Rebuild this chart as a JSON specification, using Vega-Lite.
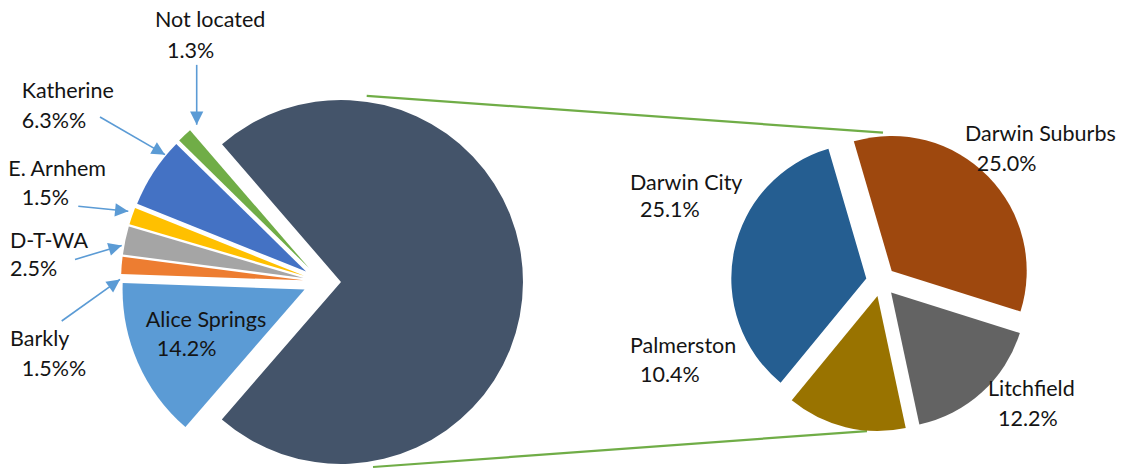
{
  "$schema": "https://vega.github.io/schema/vega-lite/v6.json",
  "width": 1146,
  "height": 469,
  "padding": 0,
  "autosize": {"type": "fit", "contains": "padding"},
  "background": "white",
  "config": {"view": {"stroke": null}},
  "datasets": {
    "slices": [
      {"pie": "left", "name": "Alice Springs", "pct": 14.2, "ord": 1},
      {"pie": "left", "name": "Barkly", "pct": 1.5, "ord": 2},
      {"pie": "left", "name": "D-T-WA", "pct": 2.5, "ord": 3},
      {"pie": "left", "name": "E. Arnhem", "pct": 1.5, "ord": 4},
      {"pie": "left", "name": "Katherine", "pct": 6.3, "ord": 5},
      {"pie": "left", "name": "Not located", "pct": 1.3, "ord": 6},
      {"pie": "left", "name": "Darwin region", "pct": 72.7, "ord": 7},
      {"pie": "right", "name": "Darwin Suburbs", "pct": 25.0, "ord": 1},
      {"pie": "right", "name": "Litchfield", "pct": 12.2, "ord": 2},
      {"pie": "right", "name": "Palmerston", "pct": 10.4, "ord": 3},
      {"pie": "right", "name": "Darwin City", "pct": 25.1, "ord": 4}
    ],
    "labels": [
      {"t": "Not located", "x": 155, "y": 27.5},
      {"t": "1.3%", "x": 167, "y": 58},
      {"t": "Katherine", "x": 21.7, "y": 98.3},
      {"t": "6.3%%", "x": 21.7, "y": 128.3},
      {"t": "E. Arnhem", "x": 8.3, "y": 176.7},
      {"t": "1.5%", "x": 21.7, "y": 205},
      {"t": "D-T-WA", "x": 10, "y": 248.3},
      {"t": "2.5%", "x": 10, "y": 276.7},
      {"t": "Barkly", "x": 10, "y": 346.7},
      {"t": "1.5%%", "x": 21.7, "y": 376.7},
      {"t": "Alice Springs", "x": 145.7, "y": 327.3},
      {"t": "14.2%", "x": 156.7, "y": 356.7},
      {"t": "Darwin City", "x": 630, "y": 190.7},
      {"t": "25.1%", "x": 640, "y": 217},
      {"t": "Darwin Suburbs", "x": 965, "y": 141.7},
      {"t": "25.0%", "x": 976.7, "y": 171.7},
      {"t": "Palmerston", "x": 630, "y": 353.3},
      {"t": "10.4%", "x": 640, "y": 383.3},
      {"t": "Litchfield", "x": 988, "y": 396.7},
      {"t": "12.2%", "x": 998, "y": 426.7}
    ],
    "arrows": [
      {"name": "Not located", "x": 196.7, "y": 65, "x2": 196.7, "y2": 125},
      {"name": "Katherine", "x": 100, "y": 117.3, "x2": 165, "y2": 155},
      {"name": "E. Arnhem", "x": 78.3, "y": 206.7, "x2": 128.3, "y2": 211.7},
      {"name": "D-T-WA", "x": 75, "y": 260, "x2": 121.7, "y2": 246},
      {"name": "Barkly", "x": 61.7, "y": 321.7, "x2": 120, "y2": 280}
    ],
    "links": [
      {"x": 366.7, "y": 96, "x2": 883, "y2": 133},
      {"x": 373, "y": 468, "x2": 867, "y2": 432}
    ]
  },
  "layer": [
    {
      "data": {"name": "links"},
      "mark": {"type": "rule", "stroke": "#70ad47", "strokeWidth": 2.2},
      "encoding": {
        "x": {"field": "x", "type": "quantitative", "scale": {"domain": [0, 1146], "nice": false, "zero": false}, "axis": null},
        "y": {"field": "y", "type": "quantitative", "scale": {"domain": [0, 469], "nice": false, "zero": false, "reverse": true}, "axis": null},
        "x2": {"field": "x2"},
        "y2": {"field": "y2"}
      }
    },
    {
      "data": {"name": "slices"},
      "transform": [{"filter": "datum.pie == 'left'"}],
      "mark": {
        "type": "arc",
        "radius": 182,
        "xOffset": {"expr": "19*sin(3.8555 + (datum.pct_start + datum.pct_end)*PI/100)"},
        "yOffset": {"expr": "-19*cos(3.8555 + (datum.pct_start + datum.pct_end)*PI/100)"}
      },
      "encoding": {
        "theta": {"field": "pct", "type": "quantitative", "stack": true, "scale": {"domain": [0, 100], "range": [3.8555, 10.1387]}},
        "order": {"field": "ord", "type": "quantitative"},
        "color": {
          "field": "name", "type": "nominal", "legend": null,
          "scale": {
            "domain": ["Darwin region", "Alice Springs", "Barkly", "D-T-WA", "E. Arnhem", "Katherine", "Not located", "Darwin City", "Darwin Suburbs", "Litchfield", "Palmerston"],
            "range": ["#44546a", "#5b9bd5", "#ed7d31", "#a5a5a5", "#ffc000", "#4472c4", "#70ad47", "#255e91", "#9e480e", "#636363", "#997300"]
          }
        },
        "x": {"datum": 322, "type": "quantitative"},
        "y": {"datum": 282.5, "type": "quantitative"}
      }
    },
    {
      "data": {"name": "slices"},
      "transform": [{"filter": "datum.pie == 'right'"}],
      "mark": {
        "type": "arc",
        "radius": 135,
        "xOffset": {"expr": "15*sin(-0.2845 + (datum.pct_start + datum.pct_end)*PI/72.7)"},
        "yOffset": {"expr": "-15*cos(-0.2845 + (datum.pct_start + datum.pct_end)*PI/72.7)"}
      },
      "encoding": {
        "theta": {"field": "pct", "type": "quantitative", "stack": true, "scale": {"domain": [0, 72.7], "range": [-0.2845, 5.9987]}},
        "order": {"field": "ord", "type": "quantitative"},
        "color": {"field": "name", "type": "nominal", "legend": null},
        "x": {"datum": 881, "type": "quantitative"},
        "y": {"datum": 282, "type": "quantitative"}
      }
    },
    {
      "data": {"name": "arrows"},
      "mark": {"type": "rule", "stroke": "#5b9bd5", "strokeWidth": 1.6},
      "encoding": {
        "x": {"field": "x", "type": "quantitative"},
        "y": {"field": "y", "type": "quantitative"},
        "x2": {"field": "x2"},
        "y2": {"field": "y2"}
      }
    },
    {
      "data": {"name": "arrows"},
      "mark": {
        "type": "point",
        "shape": "M0,0L-0.5,1L0.5,1Z",
        "filled": true,
        "opacity": 1,
        "color": "#5b9bd5",
        "size": 700,
        "angle": {"expr": "atan2(datum.x2 - datum.x, datum.y - datum.y2)*180/PI"}
      },
      "encoding": {
        "x": {"field": "x2", "type": "quantitative"},
        "y": {"field": "y2", "type": "quantitative"}
      }
    },
    {
      "data": {"name": "labels"},
      "mark": {"type": "text", "align": "left", "baseline": "alphabetic", "font": "Lato", "fontSize": 21.5, "color": "#141414"},
      "encoding": {
        "x": {"field": "x", "type": "quantitative"},
        "y": {"field": "y", "type": "quantitative"},
        "text": {"field": "t"}
      }
    }
  ],
  "resolve": {"scale": {"theta": "independent"}}
}
